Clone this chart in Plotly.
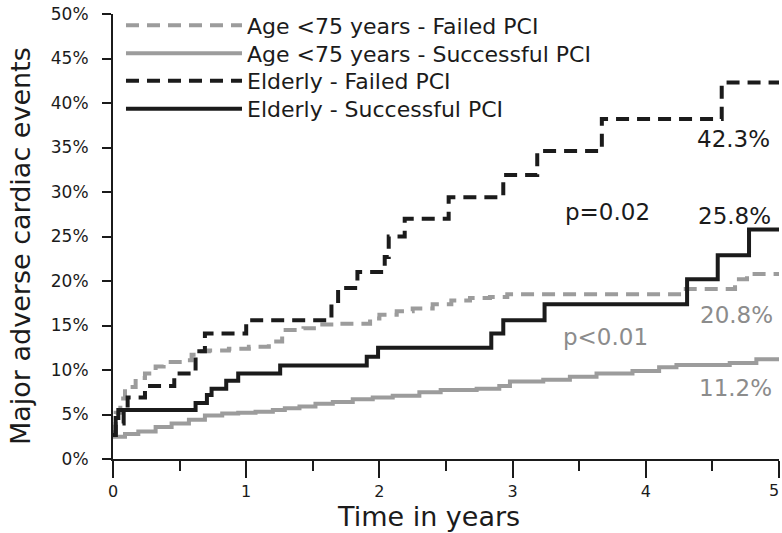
import plotly.graph_objects as go

# ---------------- data ----------------
series_names = [
    "Age <75 years - Failed PCI",
    "Age <75 years - Successful PCI",
    "Elderly - Failed PCI",
    "Elderly - Successful PCI",
]

t_young_failed = [0, 0.02, 0.055, 0.09, 0.17, 0.24, 0.32, 0.38, 0.53, 0.59, 0.63, 0.72, 0.87,
                  1.02, 1.17, 1.27, 1.43, 1.55, 1.68, 1.93, 2.0, 2.13, 2.25, 2.4, 2.54, 2.68,
                  2.83, 2.96, 4.3, 4.67, 4.76, 5.0]
mace_young_failed = [3.0, 5.2, 6.8, 8.1, 9.1, 9.6, 10.4, 10.9, 11.1, 11.7, 12.1, 12.2, 12.4,
                     12.6, 13.2, 14.5, 14.7, 15.1, 15.2, 15.8, 16.2, 16.6, 16.9, 17.4, 17.8, 18.1,
                     18.2, 18.5, 19.1, 20.2, 20.8, 20.8]

t_young_success = [0, 0.09, 0.19, 0.32, 0.44, 0.57, 0.69, 0.82, 0.94, 1.07, 1.2, 1.29, 1.4,
                   1.52, 1.65, 1.8, 1.95, 2.1, 2.3, 2.46, 2.73, 2.9, 2.98, 3.23, 3.43, 3.63,
                   3.9, 4.1, 4.23, 4.63, 4.83, 5.0]
mace_young_success = [2.5, 2.8, 3.1, 3.6, 4.0, 4.4, 4.9, 5.1, 5.2, 5.3, 5.5, 5.7, 5.9,
                      6.2, 6.4, 6.7, 6.9, 7.1, 7.5, 7.75, 7.9, 8.2, 8.7, 8.9, 9.25, 9.6,
                      9.9, 10.3, 10.55, 10.8, 11.2, 11.2]

t_elderly_failed = [0, 0.02, 0.08, 0.11, 0.24, 0.46, 0.62, 0.69, 1.0, 1.64, 1.69, 1.835, 2.04,
                    2.07, 2.19, 2.52, 2.93, 3.185, 3.67, 4.57, 5.0]
mace_elderly_failed = [2.7, 4.0, 5.6, 6.9, 8.2, 9.6, 12.1, 14.1, 15.6, 17.5, 19.2, 21.0, 22.7,
                       25.0, 27.0, 29.4, 31.9, 34.6, 38.2, 42.3, 42.3]

t_elderly_success = [0, 0.02, 0.04, 0.62, 0.705, 0.74, 0.85, 0.94, 1.255, 1.905, 1.99, 2.84,
                     2.93, 3.24, 4.31, 4.54, 4.775, 5.0]
mace_elderly_success = [2.7, 4.6, 5.5, 6.3, 7.2, 7.9, 8.8, 9.6, 10.5, 11.5, 12.5, 14.1,
                        15.6, 17.4, 20.2, 22.9, 25.8, 25.8]

y_tick_values = [0, 5, 10, 15, 20, 25, 30, 35, 40, 45, 50]
y_tick_labels = ["0%", "5%", "10%", "15%", "20%", "25%", "30%", "35%", "40%", "45%", "50%"]
x_tick_values = [0, 1, 2, 3, 4, 5]
x_tick_labels = ["0", "1", "2", "3", "4", "5"]

# end-point labels and p-values
label_texts = ["42.3%", "25.8%", "p=0.02", "20.8%", "p<0.01", "11.2%"]
label_x = [4.655, 4.665, 3.71, 4.68, 3.70, 4.67]
label_y = [35.9, 27.3, 27.8, 16.2, 13.7, 7.95]

# ---------------- styling ----------------
BLACK = "#1b1b1b"
GRAY = "#9c9c9c"
GRAY_TXT = "#8c8c8c"
FONT = "DejaVu Sans"

styles = [
    dict(color=GRAY, dash="13px,8px", width=4),
    dict(color=GRAY, dash="solid", width=4),
    dict(color=BLACK, dash="13px,8px", width=4),
    dict(color=BLACK, dash="solid", width=4),
]
xs = [t_young_failed, t_young_success, t_elderly_failed, t_elderly_success]
ys = [mace_young_failed, mace_young_success, mace_elderly_failed, mace_elderly_success]
legend_ids = ["legend", "legend2", "legend3", "legend4"]
legend_row_px = [21, 49, 76.5, 104.5]   # legend row anchors (px from top)

fig = go.Figure()
for name, x, y, st, lg in zip(series_names, xs, ys, styles, legend_ids):
    fig.add_trace(go.Scatter(
        x=x, y=y, mode="lines", name=name, legend=lg,
        line=dict(color=st["color"], dash=st["dash"], width=st["width"], shape="hv"),
        hoverinfo="skip",
    ))

label_colors = [BLACK, BLACK, BLACK, GRAY_TXT, GRAY_TXT, GRAY_TXT]
annotations = []
for txt, lx, ly, col in zip(label_texts, label_x, label_y, label_colors):
    annotations.append(dict(
        x=lx, y=ly, xref="x", yref="y", text=txt, showarrow=False,
        xanchor="center", yanchor="middle",
        font=dict(family=FONT, size=23, color=col),
    ))

# the last x tick label sits on the page edge: draw it right-aligned on its tick
# so the glyph stays fully inside the picture
x_tick_text = x_tick_labels[:-1] + [""]
annotations.append(dict(
    x=x_tick_values[-1], y=(459 - 491) / 445, xref="x", yref="paper",
    text=x_tick_labels[-1], showarrow=False, xanchor="right", yanchor="middle",
    xshift=2, font=dict(family=FONT, size=16, color=BLACK),
))

# axis titles
annotations.append(dict(
    x=(428 - 113) / 666, y=(459 - 516) / 445, xref="paper", yref="paper",
    text="Time in years", showarrow=False, xanchor="center", yanchor="middle",
    font=dict(family=FONT, size=27, color=BLACK),
))
annotations.append(dict(
    x=(20 - 113) / 666, y=(459 - 246) / 445, xref="paper", yref="paper",
    text="Major adverse cardiac events", showarrow=False, textangle=-90,
    xanchor="center", yanchor="middle",
    font=dict(family=FONT, size=27, color=BLACK),
))

legend_layouts = {}
for lg, row in zip(legend_ids, legend_row_px):
    legend_layouts[lg] = dict(
        x=0.012, y=(459 - (row - 16.5)) / 445, xanchor="left", yanchor="top",
        bgcolor="rgba(0,0,0,0)", borderwidth=0,
        font=dict(family=FONT, size=22, color=BLACK),
        itemwidth=116, tracegroupgap=0,
    )

fig.update_layout(
    width=782, height=533,
    margin=dict(l=113, r=3, t=14, b=74, pad=0, autoexpand=False),
    paper_bgcolor="white", plot_bgcolor="white",
    font=dict(family=FONT, color=BLACK),
    showlegend=True,
    annotations=annotations,
    xaxis=dict(
        range=[0, 5], showgrid=False, zeroline=False, automargin=False,
        showline=True, linecolor=BLACK, linewidth=2,
        ticks="outside", ticklen=17, tickwidth=2, tickcolor=BLACK,
        tickvals=x_tick_values, ticktext=x_tick_text,
        tickfont=dict(family=FONT, size=16, color=BLACK),
        ticklabeloverflow="allow",
        minor=dict(ticks="outside", ticklen=10, tickwidth=2, tickcolor=BLACK, dtick=0.5, showgrid=False),
    ),
    yaxis=dict(
        range=[0, 50], showgrid=False, zeroline=False, automargin=False,
        showline=True, linecolor=BLACK, linewidth=2,
        ticks="outside", ticklen=9, tickwidth=2, tickcolor=BLACK,
        tickvals=y_tick_values, ticktext=y_tick_labels,
        tickfont=dict(family=FONT, size=17, color=BLACK),
        ticklabelstandoff=10,
    ),
    **legend_layouts,
)

fig.write_html(
    "out.html",
    config={"displayModeBar": False},
    post_script="document.body.style.margin='0px';",
)
